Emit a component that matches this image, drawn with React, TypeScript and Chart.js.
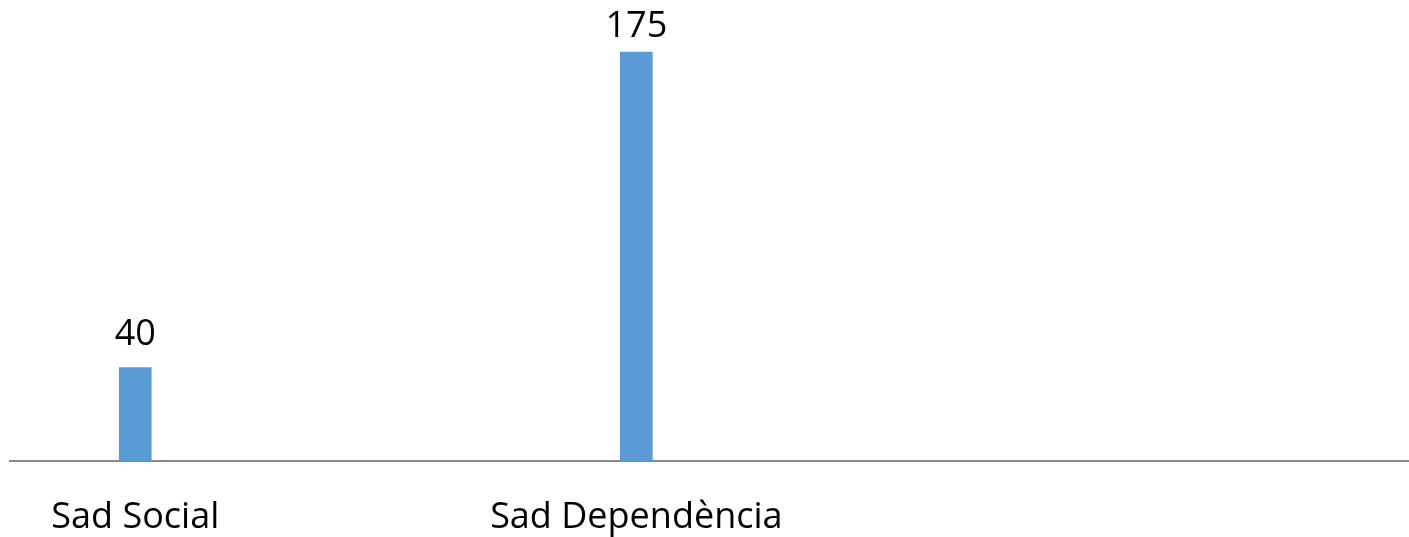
import React, { useEffect, useRef } from "react";
import { Chart, registerables } from "chart.js";

Chart.register(...registerables);

const categories: string[] = ["Sad Social", "Sad Dependència"];
const values: number[] = [40, 175];
const positions: number[] = [0, 1];

const FONT = '"Open Sans", "Liberation Sans", sans-serif';

const dataLabelPlugin = {
  id: "dataLabels",
  afterDatasetsDraw(chart: any) {
    const ctx = chart.ctx;
    ctx.save();
    ctx.font = `36px ${FONT}`;
    ctx.fillStyle = "#000000";
    ctx.textAlign = "center";
    ctx.textBaseline = "alphabetic";
    chart.data.datasets.forEach((ds: any, di: number) => {
      const meta = chart.getDatasetMeta(di);
      meta.data.forEach((bar: any, i: number) => {
        const v = ds.data[i].y;
        const y = Math.max(bar.y - 23, 37);
        ctx.fillText(String(v), bar.x, y);
      });
    });
    ctx.restore();
  },
};

export default function App() {
  const ref = useRef<HTMLCanvasElement | null>(null);
  useEffect(() => {
    if (!ref.current) return;
    const chart = new Chart(ref.current, {
      type: "bar",
      data: {
        datasets: [
          {
            data: positions.map((p, i) => ({ x: p, y: values[i] })),
            backgroundColor: "#5B9BD5",
            borderWidth: 0,
            barThickness: 32,
          },
        ],
      },
      options: {
        animation: false,
        responsive: true,
        maintainAspectRatio: false,
        layout: { padding: { left: 10, right: 1, top: 0, bottom: 0 } },
        plugins: { legend: { display: false }, tooltip: { enabled: false } },
        scales: {
          x: {
            type: "linear",
            offset: false,
            min: -0.25,
            max: 2.54,
            grid: { display: false, offset: false },
            border: { display: true, color: "#898989", width: 2 },
            afterBuildTicks: (scale: any) => {
              scale.ticks = positions.map((p) => ({ value: p }));
            },
            afterFit: (scale: any) => {
              scale.height = 76;
            },
            ticks: {
              padding: 27,
              color: "#000000",
              font: { family: FONT, size: 36 },
              maxRotation: 0,
              autoSkip: false,
              callback: (v: any) => categories[Math.round(Number(v))] ?? "",
            },
          },
          y: {
            display: false,
            min: 0,
            max: 197.3,
          },
        },
      },
      plugins: [dataLabelPlugin],
    });
    return () => chart.destroy();
  }, []);
  return (
    <div style={{ position: "absolute", left: 0, top: 0, width: 1409, height: 537, background: "#ffffff" }}>
      <canvas ref={ref} />
    </div>
  );
}
